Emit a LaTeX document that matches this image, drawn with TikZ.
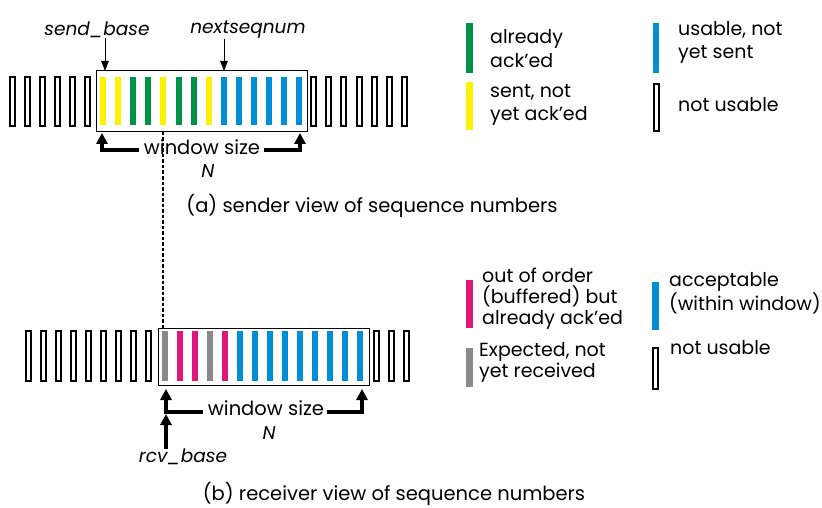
\documentclass[tikz,border=0pt]{standalone}
\usepackage{fontspec}
\setmainfont{Poppins}
\usetikzlibrary{arrows.meta}
\definecolor{sg}{RGB}{0,146,69}
\definecolor{sy}{RGB}{255,242,0}
\definecolor{sb}{RGB}{0,142,214}
\definecolor{sm}{RGB}{222,24,122}
\definecolor{sgr}{RGB}{138,138,138}
\begin{document}
\begin{tikzpicture}[x=1pt,y=-1pt,
  obar/.style={draw=black,line width=2pt,fill=white,minimum width=5pt,minimum height=#1,inner sep=0pt,outer sep=0pt},
  obar/.default=49pt,
  cbar/.style={fill=#1,draw=none,minimum width=6pt,minimum height=48pt,inner sep=0pt,outer sep=0pt},
  lbar/.style={fill=#1,draw=none,minimum width=6.5pt,inner sep=0pt,outer sep=0pt},
  win/.style={draw=black,line width=1pt,inner sep=0pt,outer sep=0pt},
  txt/.style={font=\fontsize{19.5}{22}\selectfont,inner sep=0pt},
  itxt/.style={font=\fontsize{18.5}{22}\selectfont\itshape,inner sep=0pt},
  leg/.style={font=\fontsize{19}{23.5}\selectfont,inner sep=0pt,anchor=west,align=left},
  legb/.style={font=\fontsize{19}{21}\selectfont,inner sep=0pt,anchor=west,align=left},
  bracket/.style={line width=3.2pt,-{Triangle[length=11pt,width=11pt]}},
  thinarrow/.style={line width=1pt,-{Triangle[length=10pt,width=7.5pt]}},
]
\useasboundingbox (0,0) rectangle (822,508);

% ---------- (a) sender ----------
\node[win,minimum width=211pt,minimum height=61pt] (wa) at (201.5,101.5) {};
\foreach \i in {0,...,5} \node[obar] (la\i) at (12.5+15*\i,101.5) {};
\foreach \i in {0,...,6} \node[obar] (ra\i) at (313.5+15.2*\i,101.5) {};
\foreach \c [count=\i from 0] in {sy,sy,sg,sg,sy,sg,sg,sy,sb,sb,sb,sb,sb,sb}
  \node[cbar=\c] (ca\i) at (103+15.1*\i,101) {};

\node[itxt] (sbase) at (97,30) {send\_base};
\node[itxt] (nsn) at (248,30) {nextseqnum};
\coordinate (sbt) at (105,71);
\coordinate (nst) at (224,71);
\draw[thinarrow] (sbase.south -| sbt) -- (sbt);
\draw[thinarrow] (nsn.south -| nst) -- (nst);

\node[txt] (wsa) at (202,147) {window size};
\node[itxt] (na) at (208,171) {N};
\coordinate (wal) at (139,150);
\coordinate (war) at (264,150);
\coordinate (wat1) at (102,133);
\coordinate (wat2) at (300,133);
\draw[bracket] (wal) -| (wat1);
\draw[bracket] (war) -| (wat2);

\node[txt] (capa) at (372,206) {(a) sender view of sequence numbers};

% legend (a)
\node[lbar=sg,minimum height=50pt] (lg) at (469.5,48) {};
\node[leg] (lgt) at (490,48.5) {already\\ack’ed};
\node[lbar=sy,minimum height=48pt] (ly) at (469.5,106) {};
\node[leg] (lyt) at (490,105) {sent, not\\yet ack’ed};
\node[lbar=sb,minimum height=50pt] (lb) at (656,48) {};
\node[leg] (lbt) at (678,42.5) {usable, not\\yet sent};
\node[obar=47pt] (lo) at (656.5,107.5) {};
\node[leg] (lot) at (678,105) {not usable};

% dashed link
\node[win,minimum width=211pt,minimum height=57pt] (wb) at (263.5,356.5) {};
\coordinate (dx) at (163,0);
\draw[line width=1.6pt,dash pattern=on 3.5pt off 2pt] (wa.south -| dx) -- (wb.north -| dx);

% ---------- (b) receiver ----------
\foreach \i in {0,...,8} \node[obar=50pt] (lb\i) at (28+15*\i,356) {};
\foreach \i in {0,...,2} \node[obar=50pt] (rb\i) at (376+15*\i,356) {};
\foreach \c [count=\i from 0] in {sgr,sm,sm,sgr,sm,sb,sb,sb,sb,sb,sb,sb,sb,sb}
  \node[cbar=\c,minimum height=50pt] (cb\i) at (165+15*\i,356) {};

\node[txt] (wsb) at (266,408) {window size};
\node[itxt] (nb) at (269,433) {N};
\coordinate (wbl) at (203,412);
\coordinate (wbr) at (327,412);
\coordinate (wbt1) at (166,389);
\coordinate (wbt2) at (362,389);
\draw[bracket] (wbl) -| (wbt1);
\draw[bracket] (wbr) -| (wbt2);

\node[itxt] (rbase) at (183,457) {rcv\_base};
\coordinate (rbt) at (166,414);
\draw[bracket] (rbase.north -| rbt) -- (rbt);

\node[txt] (capb) at (394,494) {(b) receiver view of sequence numbers};

% legend (b)
\node[lbar=sm,minimum height=48pt] (lm) at (469.5,304) {};
\node[legb] (lmt) at (482,299) {out of order\\(buffered) but\\already ack’ed};
\node[lbar=sb,minimum height=48pt] (lb2) at (655.5,306) {};
\node[legb] (lb2t) at (669,293) {acceptable\\(within window)};
\node[lbar=sgr,minimum height=39pt] (lgr) at (469.5,367.5) {};
\node[legb] (lgrt) at (479,362) {Expected, not\\yet received};
\node[obar=41pt] (lo2) at (655.5,368.5) {};
\node[legb] (lo2t) at (670,348) {not usable};
\end{tikzpicture}
\end{document}
